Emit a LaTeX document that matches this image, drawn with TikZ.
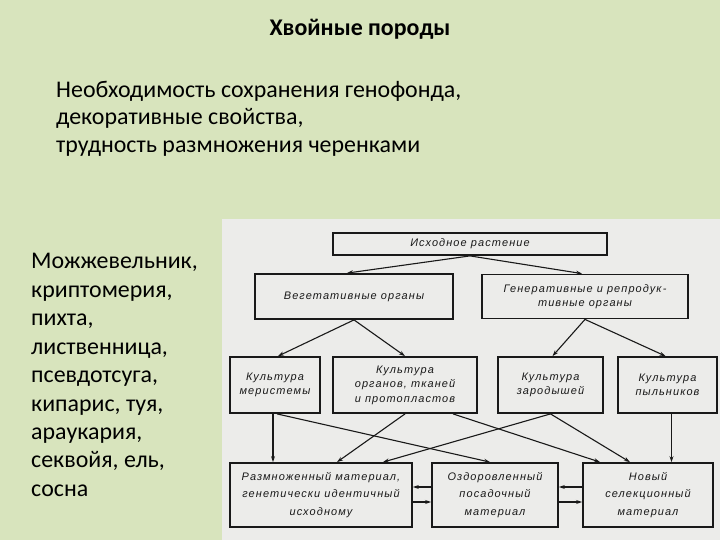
\documentclass[tikz,border=0pt]{standalone}
\usepackage{fontspec}
\setmainfont{Carlito}
\newfontfamily\scanfont[LetterSpace=10.0]{Liberation Sans}
\usetikzlibrary{arrows.meta}
\definecolor{slidegreen}{RGB}{216,228,189}
\definecolor{scangray}{RGB}{236,236,234}
\definecolor{inkblack}{RGB}{25,25,25}

\begin{document}
\begin{tikzpicture}[x=1bp, y=-1bp,
    box/.style={draw=inkblack, line width=1.8bp, inner sep=0pt, align=center, text=inkblack,
        font=\scanfont\itshape\fontsize{11}{14.5}\selectfont},
    tallbox/.style={box, font=\scanfont\itshape\fontsize{11}{17.5}\selectfont},
    flow/.style={-{Stealth[length=6bp,width=4bp]}, line width=1.1bp, draw=inkblack}
    ]

    \useasboundingbox (0,0) rectangle (720,540);
    \fill[slidegreen] (0,0) rectangle (720,540);
    \fill[scangray] (222,219) rectangle (720,540);

    % slide text
    \node[anchor=base, font=\bfseries\fontsize{24}{28}\selectfont] (title) at (360,36) {Хвойные породы};
    \node[anchor=north west, align=left, inner sep=0pt, font=\fontsize{24}{27.5}\selectfont] (reasons) at (56,81)
        {Необходимость сохранения генофонда,\\декоративные свойства,\\трудность размножения черенками};
    \node[anchor=north west, align=left, inner sep=0pt, font=\fontsize{24}{28.6}\selectfont] (species) at (31,253)
        {Можжевельник,\\криптомерия,\\пихта,\\лиственница,\\псевдотсуга,\\кипарис, туя,\\араукария,\\секвойя, ель,\\сосна};

    % scheme
    \node[box, minimum width=274bp, minimum height=22bp] (src) at (470,244) {Исходное растение};
    \node[box, minimum width=198bp, minimum height=45bp] (veg) at (354,296.5) {Вегетативные органы};
    \node[box, minimum width=206bp, minimum height=44bp] (gen) at (585,296.5) {Генеративные и репродук-\\тивные органы};
    \node[box, minimum width=90bp, minimum height=56bp] (mer) at (275,385) {Культура\\меристемы};
    \node[box, minimum width=144bp, minimum height=56bp] (org) at (405,385) {Культура\\органов, тканей\\и протопластов};
    \node[box, minimum width=105bp, minimum height=56bp] (emb) at (550.5,385) {Культура\\зародышей};
    \node[box, minimum width=99bp, minimum height=56bp] (ant) at (667.5,385) {Культура\\пыльников};
    \node[tallbox, minimum width=182bp, minimum height=64bp] (rep) at (321,495) {Размноженный материал,\\генетически идентичный\\исходному};
    \node[tallbox, minimum width=126bp, minimum height=64bp] (san) at (495,495) {Оздоровленный\\посадочный\\материал};
    \node[tallbox, minimum width=130bp, minimum height=64bp] (sel) at (648,495) {Новый\\селекционный\\материал};

    \draw[flow] (src.south) -- ([xshift=-7bp]veg.north);
    \draw[flow] (src.south) -- ([xshift=-3bp]gen.north);
    \draw[flow] (veg.south) -- ([xshift=3bp]mer.north);
    \draw[flow] (veg.south) -- (org.north);
    \draw[flow] (gen.south) -- ([xshift=2bp]emb.north);
    \draw[flow] (gen.south) -- ([xshift=-2bp]ant.north);
    \draw[flow] ([xshift=-2bp]mer.south) -- ([xshift=-2bp]mer.south |- rep.north);
    \draw[flow] ([xshift=2bp]mer.south) -- ([xshift=-5bp]san.north);
    \draw[flow] (org.south) -- ([xshift=16bp]rep.north);
    \draw[flow] ([xshift=48bp]org.south) -- ([xshift=-48bp]sel.north);
    \draw[flow] (emb.south) -- ([xshift=62bp]rep.north);
    \draw[flow] (emb.south) -- ([xshift=-18bp]sel.north);
    \draw[flow] ([xshift=4bp]ant.south) -- ([xshift=4bp]ant.south |- sel.north);
    \draw[flow] ([yshift=8bp]san.west) -- ([yshift=8bp]rep.east);
    \draw[flow] ([yshift=-7bp]rep.east) -- ([yshift=-7bp]san.west);
    \draw[flow] ([yshift=8bp]sel.west) -- ([yshift=8bp]san.east);
    \draw[flow] ([yshift=-7bp]san.east) -- ([yshift=-7bp]sel.west);

\end{tikzpicture}
\end{document}
